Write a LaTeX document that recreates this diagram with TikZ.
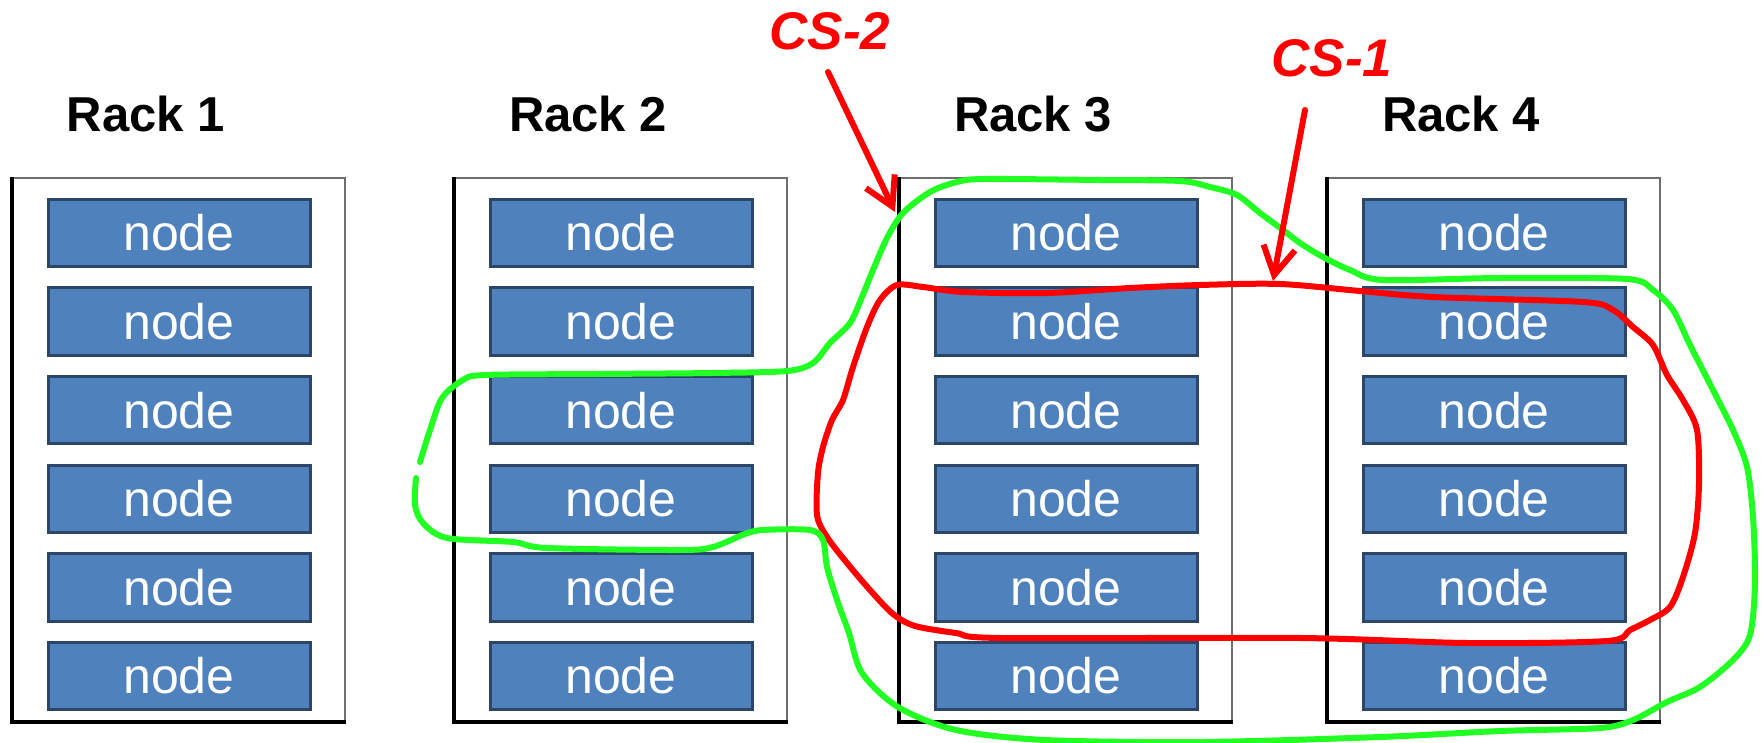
\documentclass[tikz,border=0pt]{standalone}
\usepackage{fontspec}
\setmainfont{Liberation Sans}
\usetikzlibrary{arrows.meta}
\definecolor{nodeblue}{RGB}{79,129,189}
\definecolor{nodeedge}{RGB}{44,70,105}
\definecolor{penred}{RGB}{255,0,0}
\definecolor{pengreen}{RGB}{34,255,34}
\definecolor{rackedge}{RGB}{110,110,110}

\begin{document}
\begin{tikzpicture}[x=0.5pt,y=-0.5pt,
  rackbox/.style={draw=rackedge, line width=1.2pt, fill=white, minimum width=166pt,
    minimum height=271.5pt, inner sep=0pt},
  server/.style={draw=nodeedge, line width=1.5pt, fill=nodeblue, minimum width=131pt,
    minimum height=33.6pt, inner sep=0pt, text=white, font=\fontsize{25}{25}\selectfont},
  racklabel/.style={anchor=base, inner sep=0pt, font=\bfseries\fontsize{24.5}{25}\selectfont},
  cslabel/.style={anchor=base, inner sep=0pt, text=penred,
    font=\bfseries\itshape\fontsize{26.5}{27}\selectfont},
  pointer/.style={draw=penred, line width=3pt, line cap=round,
    -{Straight Barb[length=14pt,width=16pt,line width=3pt]}},
  csone/.style={draw=penred, line width=3pt, line join=round},
  cstwo/.style={draw=pengreen, line width=3pt, line cap=round, line join=round}]

\useasboundingbox (0,0) rectangle (1762,743);

% four racks of six nodes each
\foreach \rk/\cx in {1/179, 2/621, 3/1066, 4/1494} {
  \node[rackbox] (rack\rk) at (\cx,449.5) {};
  \draw[black, line width=1.8pt] (rack\rk.north west) -- (rack\rk.south west) -- (rack\rk.south east);
  \node[racklabel] (label\rk) at (\cx-33,132) {Rack \rk};
  \foreach \i in {1,...,6} {
    \node[server] (n\rk-\i) at (\cx, {233+88.6*(\i-1)}) {node};
  }
}

% CS-1: closed red stroke round racks 3 and 4, rows 2 to 5
\draw[csone] plot[smooth cycle, tension=0.5] coordinates {
  (897,285) (923,287) (963,292) (1047,293) (1130,288) (1200,285) (1280,284) (1360,291)
  (1433,297) (1583,302) (1613,310) (1633,327) (1653,345) (1667,375) (1683,400) (1697,430)
  (1699,483) (1695,533) (1683,577) (1670,607) (1650,620) (1630,630) (1607,641) (1467,643)
  (1300,638) (1001,638) (956,633) (915,626) (893,614) (870,590) (847,563) (827,537)
  (817,515) (818,473) (823,447) (832,420) (843,400) (853,367) (867,327) (880,300)};

% CS-2: green stroke from rack 2 across racks 3 and 4
\draw[cstwo] plot[smooth, tension=0.5] coordinates {
  (420,462) (430,430) (442,398) (463,380) (485,375) (600,374) (713,373) (787,371)
  (813,363) (830,343) (850,323) (862,297) (873,270) (887,238) (903,213) (930,192)
  (957,182) (985,179) (1100,180) (1180,181) (1210,187) (1237,195) (1260,213) (1283,230)
  (1300,243) (1323,257) (1350,270) (1383,280) (1500,278) (1627,279) (1653,290) (1673,310)
  (1690,345) (1713,390) (1733,430) (1747,467) (1753,517) (1755,583) (1750,635) (1733,660)
  (1700,687) (1667,702) (1633,720) (1600,728) (1500,731) (1380,737) (1202,742) (1045,740)
  (956,730) (898,707) (862,673) (849,633) (837,600) (827,567) (823,540) (810,530)
  (763,530) (745,534) (713,547) (680,550) (547,548) (513,542) (447,538) (423,523)
  (415,505) (416,478)};

% labels with their pointers
\node[cslabel] (cs2) at (830,50) {CS-2};
\node[cslabel] (cs1) at (1332,77) {CS-1};
\coordinate (cs2from) at (828,72);
\coordinate (cs2to) at (895,212);
\coordinate (cs1from) at (1305,110);
\coordinate (cs1to) at (1273,281);
\draw[pointer] (cs2from) -- (cs2to);
\draw[pointer] (cs1from) -- (cs1to);
\end{tikzpicture}
\end{document}
